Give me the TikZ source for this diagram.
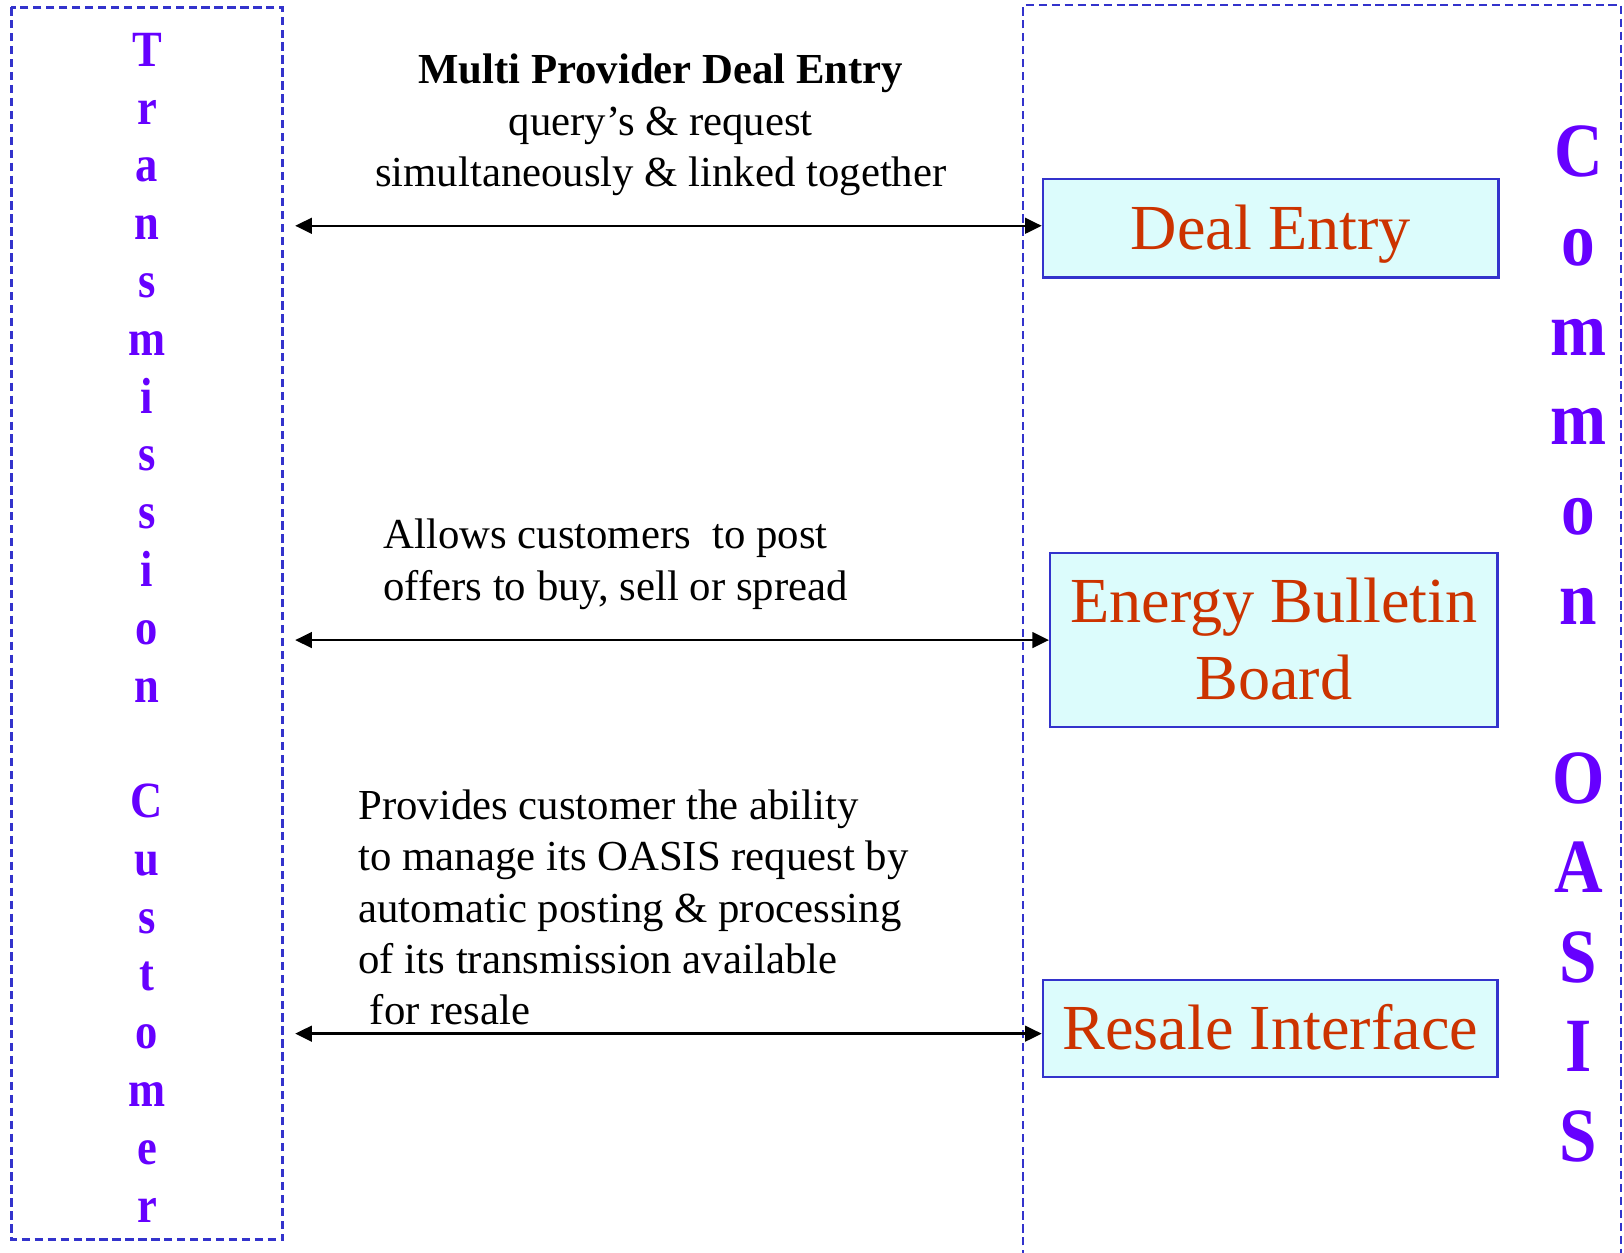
\documentclass[tikz,border=0pt]{standalone}
\usepackage{fontspec}
\setmainfont{Liberation Serif}
\usepackage{graphicx}
\usetikzlibrary{arrows.meta}
\definecolor{dashblue}{RGB}{51,51,204}
\definecolor{vpurple}{RGB}{102,0,255}
\definecolor{boxred}{RGB}{204,51,0}
\definecolor{boxfill}{RGB}{220,252,252}
\newcommand\mystretch[1]{\scalebox{1}[1.14]{#1}}
\tikzset{
  panel/.style={draw=dashblue, dash pattern=on 8pt off 4.5pt},
  tbox/.style={draw=dashblue, line width=2.4pt, fill=boxfill, inner sep=0pt,
    text=boxred, font=\fontsize{62}{74.5}\selectfont, text height=41pt, text depth=0pt},
  vletL/.style={text=vpurple, inner sep=0pt, anchor=base, font=\fontsize{43}{50}\selectfont\bfseries},
  vletR/.style={text=vpurple, inner sep=0pt, anchor=base, font=\fontsize{65}{75}\selectfont\bfseries},
  body/.style={inner sep=0pt, font=\fontsize{41.3}{49.6}\selectfont},
  link/.style={{Triangle[length=16pt,width=15pt]}-{Triangle[length=16pt,width=15pt]}, line width=2.4pt, black}
}
\begin{document}
\begin{tikzpicture}[x=1pt,y=-1pt]
\useasboundingbox[fill=white] (0,0) rectangle (1568,1209);
% panels
\draw[panel, line width=2.8pt] (11,7) rectangle (273,1197);
\draw[panel, line width=2pt] (988,1215) -- (988,5) -- (1565,5) -- (1565,1215);
% vertical labels
\foreach \i/\ch in {0/T,1/r,2/a,3/n,4/s,5/m,6/i,7/s,8/s,9/i,10/o,11/n,13/C,14/u,15/s,16/t,17/o,18/m,19/e,20/r}
  \node[vletL] (tc\i) at (142,{64+55.8*\i}) {\mystretch{\ch}};
\foreach \i/\ch in {0/C,1/o,2/m,3/m,4/o,5/n,7/O,8/A,9/S,10/I,11/S}
  \node[vletR] (co\i) at (1524,{170+86.5*\i}) {\mystretch{\ch}};
% boxes
\node[tbox, minimum width=440pt, minimum height=95pt] (deal) at (1227,220.5) {Deal Entry};
\node[tbox, minimum width=432pt, minimum height=168pt, text depth=74.5pt] (ebb) at (1230,618)
  {\begin{tabular}[t]{@{}c@{}}Energy Bulletin\\Board\end{tabular}};
\node[tbox, minimum width=439pt, minimum height=94pt] (resale) at (1226.5,993) {Resale Interface};
% texts
\node[body, anchor=base] (hdr) at (638,81)
  {\begin{tabular}[t]{@{}c@{}}\textbf{Multi Provider Deal Entry}\\query’s \& request\\simultaneously \& linked together\end{tabular}};
\node[body, anchor=base west] (p2) at (370,530)
  {\begin{tabular}[t]{@{}l@{}}Allows customers\ \ to post\\offers to buy, sell or spread\end{tabular}};
\node[body, anchor=base west] (p3) at (346,791)
  {\begin{tabular}[t]{@{}l@{}}Provides customer the ability\\to manage its OASIS request by\\automatic posting \& processing\\of its transmission available\\\hspace*{11pt}for resale\end{tabular}};
% connectors
\coordinate (a1) at (285,218);
\coordinate (a2) at (285,618);
\coordinate (a3) at (285,998);
\draw[link] (a1) -- (a1 -| deal.west);
\draw[link] (a2) -- (a2 -| ebb.west);
\draw[link] (a3) -- (a3 -| resale.west);
\end{tikzpicture}
\end{document}
